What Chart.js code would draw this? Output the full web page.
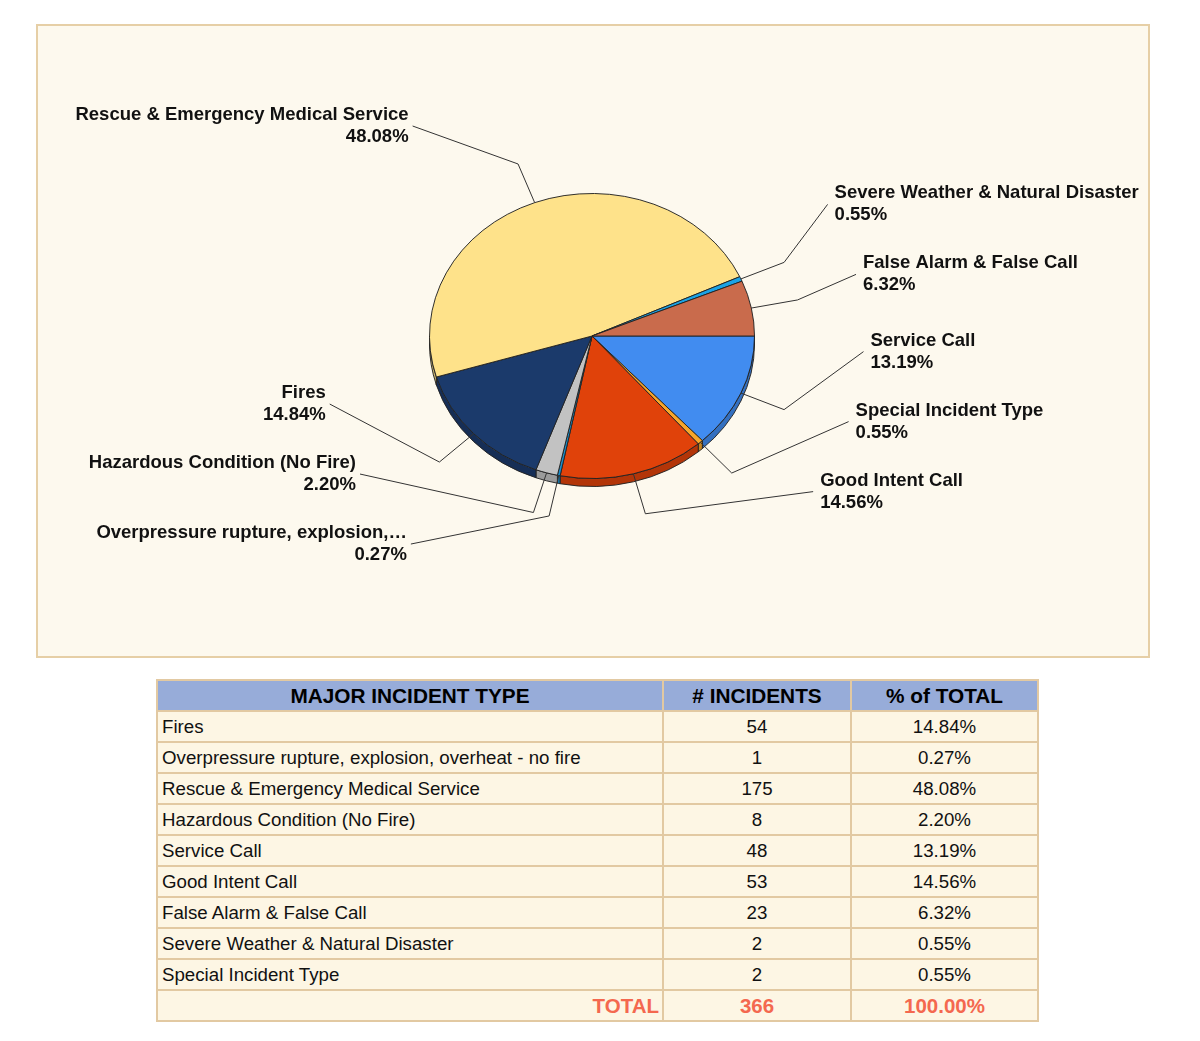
<!DOCTYPE html>
<html>
<head>
<meta charset="utf-8">
<script src="https://cdn.jsdelivr.net/npm/chart.js@4.4.1/dist/chart.umd.min.js"></script>
<style>
  body { margin: 0; background: #fff; font-family: "Liberation Sans", Arial, sans-serif; }
  #panel {
    position: absolute; left: 36px; top: 24px; width: 1114px; height: 634px;
    box-sizing: border-box; border: 2px solid #e6cfa6; background: #fdf9ee;
  }
  #panel canvas { display: block; }
  table {
    position: absolute; left: 156px; top: 679px; width: 881px; table-layout: fixed;
    border-collapse: collapse; font-size: 18.7px; color: #111;
  }
  th, td { border: 2px solid #e2c9a2; height: 27px; padding: 1px 4px; white-space: nowrap; }
  th { background: #97acd9; font-size: 20.8px; font-weight: bold; color: #000; }
  td { background: #fdf6e4; }
  td.num { text-align: center; }
  tr.total td { color: #f4684f; font-weight: bold; font-size: 20.5px; }
  tr.total td.lbl { text-align: right; padding-right: 3px; }
</style>
</head>
<body>
<div id="panel"><canvas id="myChart" width="1110" height="630"></canvas></div>
<table id="tbl"></table>
<script>
// table order, as in the reference
const types = [
  'Fires',
  'Overpressure rupture, explosion, overheat - no fire',
  'Rescue & Emergency Medical Service',
  'Hazardous Condition (No Fire)',
  'Service Call',
  'Good Intent Call',
  'False Alarm & False Call',
  'Severe Weather & Natural Disaster',
  'Special Incident Type'
];
const incidents = [54, 1, 175, 8, 48, 53, 23, 2, 2];
const percents = ['14.84%', '0.27%', '48.08%', '2.20%', '13.19%', '14.56%', '6.32%', '0.55%', '0.55%'];
const totalIncidents = '366';
const totalPercent = '100.00%';
const headers = ['MAJOR INCIDENT TYPE', '# INCIDENTS', '% of TOTAL'];
// short names used on the pie labels
const pieNames = [
  'Fires',
  'Overpressure rupture, explosion,\u2026',
  'Rescue & Emergency Medical Service',
  'Hazardous Condition (No Fire)',
  'Service Call',
  'Good Intent Call',
  'False Alarm & False Call',
  'Severe Weather & Natural Disaster',
  'Special Incident Type'
];
// order of slices clockwise from 3 o'clock
const pieOrder = [4, 8, 5, 1, 3, 0, 2, 7, 6];
const sliceColors = ['#1b3a6b', '#1a8fcc', '#fee28a', '#c2c2c2', '#418cf0', '#e0420a', '#c96b4c', '#1aa3e6', '#f8a62a'];

// table
function esc(s) { return s.replace(/&/g, '&amp;'); }
const tbl = document.getElementById('tbl');
let html = '<colgroup><col style="width:506px"><col style="width:188px"><col style="width:187px"></colgroup>';
html += '<tr>' + headers.map(h => '<th>' + h + '</th>').join('') + '</tr>';
for (let i = 0; i < types.length; i++) {
  html += '<tr><td>' + esc(types[i]) + '</td><td class="num">' + incidents[i] +
          '</td><td class="num">' + percents[i] + '</td></tr>';
}
html += '<tr class="total"><td class="lbl">TOTAL</td><td class="num">' + totalIncidents +
        '</td><td class="num">' + totalPercent + '</td></tr>';
tbl.innerHTML = html;

// pie
const flatY = 0.877;   // vertical squash of the pie
const depth = 8;       // rim thickness in px

function darker(hex, f) {
  const n = parseInt(hex.slice(1), 16);
  const r = Math.round(((n >> 16) & 255) * f), g = Math.round(((n >> 8) & 255) * f), b = Math.round((n & 255) * f);
  return 'rgb(' + r + ',' + g + ',' + b + ')';
}

const tilt = {
  id: 'tilt',
  beforeDatasetsDraw(chart) {
    const ctx = chart.ctx;
    const arcs = chart.getDatasetMeta(0).data;
    const cx = arcs[0].x, cy = arcs[0].y;
    ctx.save();
    ctx.translate(cx, cy);
    ctx.scale(1, flatY);
    ctx.translate(-cx, -cy);
    // rim: only the front (lower) half is visible
    const d = depth / flatY;
    arcs.forEach((a, i) => {
      const s = Math.max(a.startAngle, 0), e = Math.min(a.endAngle, Math.PI);
      if (e <= s) return;
      const r = a.outerRadius;
      ctx.beginPath();
      ctx.arc(cx, cy, r, s, e);
      ctx.lineTo(cx + r * Math.cos(e), cy + d + r * Math.sin(e));
      ctx.arc(cx, cy + d, r, e, s, true);
      ctx.closePath();
      ctx.fillStyle = darker(chart.data.datasets[0].backgroundColor[i], 0.8);
      ctx.fill();
      ctx.lineWidth = 1;
      ctx.strokeStyle = '#222';
      ctx.stroke();
    });
  },
  afterDatasetsDraw(chart) {
    chart.ctx.restore();
  },
  afterDraw(chart) {
    const ctx = chart.ctx;
    const arcs = chart.getDatasetMeta(0).data;
    const cx = arcs[0].x, cy = arcs[0].y;
    const items = arcs.map((a, i) => {
      const m = (a.startAngle + a.endAngle) / 2;
      const r = a.outerRadius;
      const ex = cx + r * Math.cos(m), ey = cy + r * flatY * Math.sin(m);
      const px = cx + 1.29 * (ex - cx), py = cy + 1.29 * (ey - cy);
      // keep labels inside the label ring
      return { i, ex, ey, px, py, right: Math.cos(m) >= 0, y: Math.max(py - 58, cy - 210) };
    });
    [true, false].forEach(side => {
      const list = items.filter(t => t.right === side).sort((p, q) => p.y - q.y);
      for (let k = 1; k < list.length; k++) {
        if (list[k].y < list[k - 1].y + 70) list[k].y = list[k - 1].y + 70;
      }
    });
    ctx.save();
    ctx.font = 'bold 18.5px "Liberation Sans", Arial, sans-serif';
    ctx.fillStyle = '#111';
    ctx.strokeStyle = '#333';
    ctx.lineWidth = 1;
    ctx.textBaseline = 'middle';
    items.forEach(t => {
      const dy = t.y - cy;
      const dx = 272 - 0.0021 * dy * dy;
      const ax = t.right ? cx + dx : cx - dx;
      ctx.beginPath();
      ctx.moveTo(t.ex, t.ey);
      ctx.lineTo(t.px, t.py);
      ctx.lineTo(ax, t.y);
      ctx.stroke();
      const idx = chart.data.labelIndex[t.i];
      ctx.textAlign = t.right ? 'left' : 'right';
      const tx = t.right ? ax + 7 : ax - 4;
      ctx.fillText(pieNames[idx], tx, t.y - 11);
      ctx.fillText(percents[idx], tx, t.y + 11);
    });
    ctx.restore();
  }
};

const data = {
  labels: pieOrder.map(i => types[i]),
  labelIndex: pieOrder,
  datasets: [{
    data: pieOrder.map(i => incidents[i]),
    backgroundColor: pieOrder.map(i => sliceColors[i]),
    borderColor: '#222',
    borderWidth: 1
  }]
};

const config = {
  type: 'pie',
  data,
  options: {
    responsive: false,
    animation: false,
    rotation: 90,
    events: [],
    layout: { padding: { left: 391, right: 393, top: 147, bottom: 157 } },
    plugins: { legend: { display: false }, tooltip: { enabled: false } }
  },
  plugins: [tilt]
};

const myChart = new Chart(document.getElementById('myChart'), config);
</script>
</body>
</html>
